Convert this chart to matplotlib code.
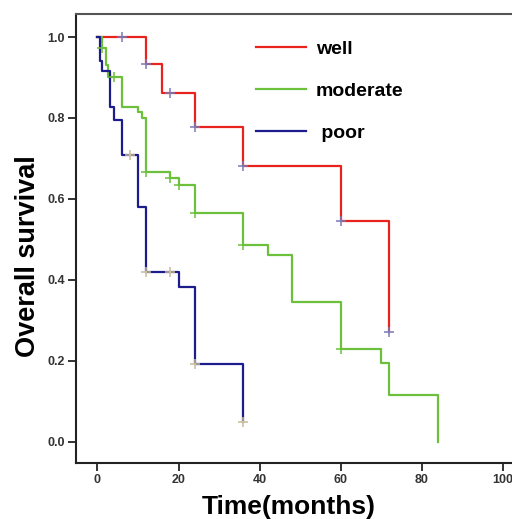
import matplotlib.pyplot as plt

plt.rcParams['font.family'] = ['Liberation Sans', 'DejaVu Sans']

# Kaplan-Meier step data
well_t = [0, 12, 16, 24, 36, 60, 72]
well_s = [1.0, 0.933, 0.862, 0.777, 0.680, 0.545, 0.272]
well_ct = [6, 12, 18, 24, 36, 60, 72]
well_cs = [1.0, 0.933, 0.862, 0.777, 0.680, 0.545, 0.272]

mod_t = [0, 1, 2, 2.5, 6, 10, 11, 12, 18, 20, 24, 36, 42, 48, 60, 70, 72, 84]
mod_s = [1.0, 0.972, 0.931, 0.902, 0.828, 0.814, 0.800, 0.666, 0.651, 0.634,
         0.566, 0.487, 0.461, 0.345, 0.230, 0.193, 0.115, 0.0]
mod_ct = [1, 4, 12, 18, 20, 24, 36, 60]
mod_cs = [0.972, 0.902, 0.666, 0.651, 0.634, 0.566, 0.487, 0.230]

poor_t = [0, 0.5, 1, 3, 4, 6, 10, 12, 20, 24, 36]
poor_s = [1.0, 0.942, 0.915, 0.826, 0.796, 0.709, 0.579, 0.418, 0.381, 0.192, 0.048]
poor_ct = [8, 12, 18, 24, 36]
poor_cs = [0.709, 0.418, 0.418, 0.192, 0.048]

red = '#e8221c'
green = '#6cc03c'
blue = '#1c1c8c'

fig = plt.figure(figsize=(5.12, 5.19), dpi=100)
ax = fig.add_axes([76 / 512, 1 - 463 / 519, 1 - 76 / 512, (463 - 14) / 519])

ax.step(well_t, well_s, where='post', color=red, lw=1.6, label='well')
ax.step(mod_t, mod_s, where='post', color=green, lw=1.6, label='moderate')
ax.step(poor_t, poor_s, where='post', color=blue, lw=1.6, label=' poor')

ax.plot(well_ct, well_cs, '+', color='#7a7ab8', ms=6.5, mew=1.1)
ax.plot(mod_ct, mod_cs, '+', color=green, ms=6.5, mew=1.1)
ax.plot(poor_ct, poor_cs, '+', color='#c8bc98', ms=6.5, mew=1.1)

ax.set_xlim(-5.3, 102.3)
ax.set_ylim(-0.053, 1.057)
ax.set_xticks([0, 20, 40, 60, 80, 100])
ax.set_yticks([0.0, 0.2, 0.4, 0.6, 0.8, 1.0])
ax.set_yticklabels(['0.0', '0.2', '0.4', '0.6', '0.8', '1.0'])

ax.spines['right'].set_visible(False)
for s in ['left', 'bottom']:
    ax.spines[s].set_linewidth(1.5)
    ax.spines[s].set_color('#222222')
ax.spines['top'].set_linewidth(1.5)
ax.spines['top'].set_color('#555555')

ax.tick_params(direction='out', length=6, width=1.3, color='#222222',
               labelsize=9, labelcolor='#333333', pad=2)
for lab in ax.get_xticklabels() + ax.get_yticklabels():
    lab.set_fontweight('bold')

ax.set_xlabel('Time(months)', fontsize=19, fontweight='bold')
ax.set_ylabel('Overall survival', fontsize=19.5, fontweight='bold')
ax.xaxis.set_label_coords(0.489, -0.099, transform=ax.transAxes)
ax.yaxis.set_label_coords(-0.11, 0.461, transform=ax.transAxes)
ax.xaxis.label.set_va('center')
ax.yaxis.label.set_va('center')

ax.legend(loc='upper left', bbox_to_anchor=(256 / 512, 1 - 40 / 519),
          bbox_transform=fig.transFigure, frameon=False, borderpad=0,
          borderaxespad=0, handlelength=2.57, handletextpad=0.5,
          labelspacing=1.26, prop={'weight': 'bold', 'size': 14})

fig.savefig('out.png', dpi=100)
